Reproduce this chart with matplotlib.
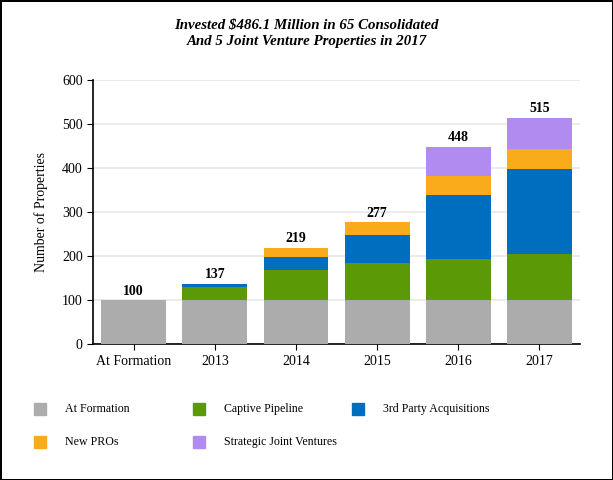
import matplotlib.pyplot as plt
from matplotlib.patches import Rectangle
import numpy as np

plt.rcParams['font.family'] = ['Liberation Serif', 'DejaVu Serif']

years = ["At Formation", "2013", "2014", "2015", "2016", "2017"]
at_formation = [100, 100, 100, 100, 100, 100]
captive = [0, 31, 68, 85, 93, 104]
third_party = [0, 6, 30, 62, 145, 194]
new_pros = [0, 0, 21, 30, 44, 45]
strategic_jv = [0, 0, 0, 0, 66, 72]
totals = [100, 137, 219, 277, 448, 515]

series = [
    ("At Formation", at_formation, "#acacac"),
    ("Captive Pipeline", captive, "#5b9a06"),
    ("3rd Party Acquisitions", third_party, "#006ebf"),
    ("New PROs", new_pros, "#f9ab1c"),
    ("Strategic Joint Ventures", strategic_jv, "#b28bf0"),
]

W, H = 613, 480
fig = plt.figure(figsize=(W / 100, H / 100), dpi=100, edgecolor="black", linewidth=2)
ax = fig.add_axes([0.152, 0.283, 0.794, 0.55])

x = np.arange(len(years))
bottom = np.zeros(len(years))
for name, vals, color in series:
    ax.bar(x, vals, 0.8, bottom=bottom, color=color, label=name, zorder=3)
    bottom += np.array(vals)

for xi, t in zip(x, totals):
    ax.text(xi, t + 6, str(t), ha="center", va="bottom", fontsize=10,
            fontweight="bold")

ax.set_xlim(-0.5, 5.5)
ax.set_ylim(0, 600)
ax.set_yticks(range(0, 601, 100))
ax.set_xticks(x)
ax.set_xticklabels(years)
ax.tick_params(labelsize=10, length=4)
ax.yaxis.grid(True, color="#e8e8e8", linewidth=1.2, zorder=0)
ax.set_axisbelow(True)
for s in ("top", "right"):
    ax.spines[s].set_visible(False)
ax.spines["left"].set_linewidth(1.2)
ax.spines["bottom"].set_linewidth(1.2)
ax.set_ylabel("Number of Properties", fontsize=10, labelpad=10)

fig.text(0.5, 0.962, "Invested $486.1 Million in 65 Consolidated\nAnd 5 Joint Venture Properties in 2017",
         ha="center", va="top", fontsize=10.7, fontweight="bold", style="italic",
         linespacing=1.4)

# legend laid out by hand: 3 columns, 2 rows
col_x = [34, 193, 352]
row_y = [409, 442]
for i, (name, _, color) in enumerate(series):
    cx = col_x[i % 3]
    cy = row_y[i // 3]
    fig.patches.append(Rectangle(((cx) / W, 1 - (cy + 6) / H), 12 / W, 12 / H,
                                 transform=fig.transFigure, color=color))
    fig.text((cx + 31) / W, 1 - cy / H, name, ha="left", va="center",
             fontsize=8.6)

fig.savefig("out.png", dpi=100)
